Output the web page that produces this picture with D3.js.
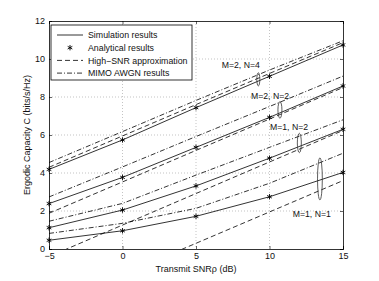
<!DOCTYPE html>
<html>
<head>
<meta charset="utf-8">
<script src="https://cdn.jsdelivr.net/npm/d3@7"></script>
<style>
  body { margin: 0; background: #fff; }
  svg { display: block; font-family: "Liberation Sans", Arial, sans-serif; }
</style>
</head>
<body>
<div id="container"></div>
<script>
/* CONSTANTS AND GLOBALS */
const width = 379,
  height = 281,
  margin = { top: 21, bottom: 32, left: 49, right: 36 };

/* DATA */
const snr = [-5, 0, 5, 10, 15];
const yTicks = [0, 2, 4, 6, 8, 10, 12];
const xTicks = [-5, 0, 5, 10, 15];

// simulation / analytical (same points)
const simM2N4 = [4.19, 5.74, 7.44, 9.09, 10.74];
const simM2N2 = [2.39, 3.77, 5.35, 6.93, 8.58];
const simM1N2 = [1.12, 2.05, 3.32, 4.78, 6.30];
const simM1N1 = [0.46, 0.96, 1.72, 2.75, 4.03];

// high-SNR approximation
const hiM2N4 = [4.30, 5.95, 7.60, 9.24, 10.86];
const hiM2N2 = [1.88, 3.53, 5.19, 6.84, 8.50];
const hiM1N2 = [-0.40, 1.26, 2.92, 4.58, 6.24];
const hiM1N1 = [-3.00, -1.35, 0.30, 1.95, 3.60];

// MIMO AWGN
const awM2N4 = [4.55, 6.18, 7.82, 9.42, 10.96];
const awM2N2 = [2.74, 4.32, 5.92, 7.50, 9.10];
const awM1N2 = [1.46, 2.40, 3.89, 5.35, 6.80];
const awM1N1 = [0.82, 1.35, 2.14, 3.46, 5.04];

const legendLabels = ["Simulation results", "Analytical results", "High\u2212SNR approximation", "MIMO AWGN results"];

// annotation: label position and ellipse position (data units)
const notes = [
  { text: "M=2, N=4", tx: 6.75, ty: 9.53, ex: 9.24, ey: 8.93, ry: 6.6, rx: 1.5 },
  { text: "M=2, N=2", tx: 8.74, ty: 7.9, ex: 10.71, ey: 7.32, ry: 8.3, rx: 2 },
  { text: "M=1, N=2", tx: 10.03, ty: 6.26, ex: 12.03, ey: 5.58, ry: 9.7, rx: 2 },
  { text: "M=1, N=1", tx: 11.58, ty: 1.66, ex: 13.43, ey: 3.69, ry: 21, rx: 2.4 }
];

/* SCALES */
const xScale = d3.scaleLinear()
  .domain([-5, 15])
  .range([margin.left, width - margin.right]);

const yScale = d3.scaleLinear()
  .domain([0, 12])
  .range([height - margin.bottom, margin.top]);

/* SVG */
const svg = d3.select("#container")
  .append("svg")
  .attr("width", width)
  .attr("height", height);

svg.append("defs").append("clipPath").attr("id", "clip")
  .append("rect")
  .attr("x", margin.left).attr("y", margin.top)
  .attr("width", width - margin.left - margin.right)
  .attr("height", height - margin.top - margin.bottom);

// grid
svg.append("g")
  .selectAll("line")
  .data(xTicks.slice(1, -1))
  .join("line")
  .attr("x1", d => xScale(d)).attr("x2", d => xScale(d))
  .attr("y1", yScale(12)).attr("y2", yScale(0))
  .attr("stroke", "#aaa").attr("stroke-width", 0.7)
  .attr("stroke-dasharray", "1,2");

svg.append("g")
  .selectAll("line")
  .data(yTicks.slice(1, -1))
  .join("line")
  .attr("x1", xScale(-5)).attr("x2", xScale(15))
  .attr("y1", d => yScale(d)).attr("y2", d => yScale(d))
  .attr("stroke", "#aaa").attr("stroke-width", 0.7)
  .attr("stroke-dasharray", "1,2");

// axes (ticks inward, all four sides)
const xAxis = d3.axisBottom(xScale).tickValues(xTicks).tickSize(-3).tickPadding(4);
const yAxis = d3.axisLeft(yScale).tickValues(yTicks).tickSize(-3).tickPadding(4);

svg.append("g")
  .attr("transform", `translate(0,${yScale(0)})`)
  .call(xAxis);
svg.append("g")
  .attr("transform", `translate(${xScale(-5)},0)`)
  .call(yAxis);
svg.append("g")
  .attr("transform", `translate(0,${yScale(12)})`)
  .call(d3.axisTop(xScale).tickValues(xTicks).tickSize(-3).tickFormat(""));
svg.append("g")
  .attr("transform", `translate(${xScale(15)},0)`)
  .call(d3.axisRight(yScale).tickValues(yTicks).tickSize(-3).tickFormat(""));

svg.selectAll(".domain").attr("stroke", "#000").attr("stroke-width", 0.8);
svg.selectAll(".tick line").attr("stroke", "#000").attr("stroke-width", 0.6);
svg.selectAll(".tick text")
  .attr("font-size", 9)
  .attr("font-family", "Liberation Sans, Arial, sans-serif")
  .attr("fill", "#111");

// axis labels
svg.append("text")
  .attr("x", xScale(5))
  .attr("y", 271.5)
  .attr("text-anchor", "middle")
  .attr("font-size", 9)
  .attr("fill", "#111")
  .text("Transmit SNR\u03c1 (dB)");

svg.append("text")
  .attr("transform", `translate(30,${yScale(6)}) rotate(-90)`)
  .attr("text-anchor", "middle")
  .attr("font-size", 9)
  .attr("fill", "#111")
  .text("Ergodic Capacity C (bits/s/Hz)");

/* LINES */
const line = d3.line()
  .x((d, i) => xScale(snr[i]))
  .y(d => yScale(d));

const plot = svg.append("g").attr("clip-path", "url(#clip)");

const styles = [
  { sets: [awM2N4, awM2N2, awM1N2, awM1N1], dash: "5,2,1,2" },
  { sets: [hiM2N4, hiM2N2, hiM1N2, hiM1N1], dash: "5,3" },
  { sets: [simM2N4, simM2N2, simM1N2, simM1N1], dash: null }
];

styles.forEach(s => {
  plot.selectAll(null)
    .data(s.sets)
    .join("path")
    .attr("d", line)
    .attr("fill", "none")
    .attr("stroke", "#000")
    .attr("stroke-width", 0.8)
    .attr("stroke-dasharray", s.dash);
});

// analytical stars
const star = d3.symbol().type(d3.symbolAsterisk).size(20);
const starPts = [simM2N4, simM2N2, simM1N2, simM1N1]
  .flatMap(arr => arr.map((v, i) => ({ x: snr[i], y: v })));

svg.append("g")
  .selectAll("path")
  .data(starPts)
  .join("path")
  .attr("d", star)
  .attr("transform", d => `translate(${xScale(d.x)},${yScale(d.y)})`)
  .attr("fill", "none")
  .attr("stroke", "#000")
  .attr("stroke-width", 0.9);

/* ANNOTATIONS */
svg.append("g")
  .selectAll("text")
  .data(notes)
  .join("text")
  .attr("x", d => xScale(d.tx))
  .attr("y", d => yScale(d.ty))
  .attr("font-size", 8.7)
  .attr("fill", "#111")
  .text(d => d.text);

svg.append("g")
  .selectAll("ellipse")
  .data(notes)
  .join("ellipse")
  .attr("cx", d => xScale(d.ex))
  .attr("cy", d => yScale(d.ey))
  .attr("rx", d => d.rx)
  .attr("ry", d => d.ry)
  .attr("fill", "none")
  .attr("stroke", "#333")
  .attr("stroke-width", 0.8);

/* LEGEND */
const lg = svg.append("g");
lg.append("rect")
  .attr("x", 51).attr("y", 25)
  .attr("width", 141).attr("height", 55)
  .attr("fill", "#fff")
  .attr("stroke", "#000")
  .attr("stroke-width", 0.8);

const rows = lg.selectAll("g")
  .data(legendLabels)
  .join("g")
  .attr("transform", (d, i) => `translate(0,${35 + i * 12.7})`);

rows.filter((d, i) => i !== 1)
  .append("line")
  .attr("x1", 57).attr("x2", 83)
  .attr("stroke", "#000")
  .attr("stroke-width", 0.8)
  .attr("stroke-dasharray", (d, i) => [null, "5,3", "5,2,1,2"][i]);

rows.filter((d, i) => i === 1)
  .append("path")
  .attr("d", star)
  .attr("transform", "translate(70,0)")
  .attr("fill", "none")
  .attr("stroke", "#000")
  .attr("stroke-width", 0.9);

rows.append("text")
  .attr("x", 88)
  .attr("y", 3.2)
  .attr("font-size", 8.8)
  .attr("fill", "#111")
  .text(d => d);
</script>
</body>
</html>
